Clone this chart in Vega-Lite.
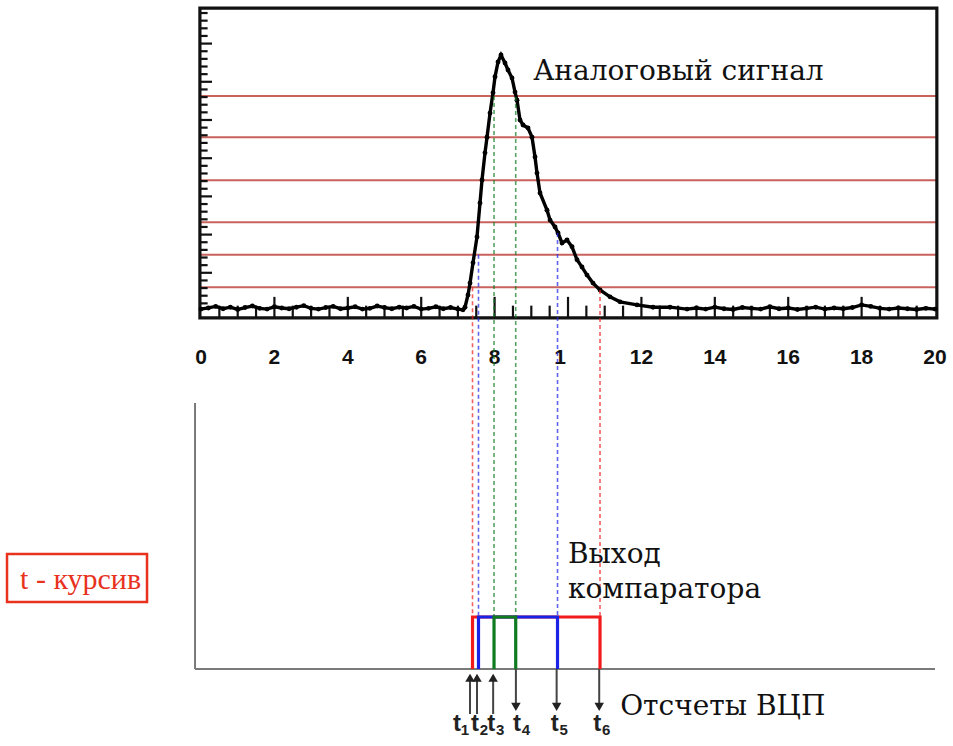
{
  "$schema": "https://vega.github.io/schema/vega-lite/v6.json",
  "width": 953,
  "height": 746,
  "padding": 0,
  "autosize": {"type": "none"},
  "background": "white",
  "config": {"view": {"stroke": null}},
  "datasets": {
    "pulse": [
      {"t":0.0,"a":0.05},{"t":0.2,"a":0.08},{"t":0.4,"a":0.12},{"t":0.6,"a":0.06},{"t":0.8,"a":0.1},{"t":1.0,"a":0.04},
      {"t":1.2,"a":0.09},{"t":1.4,"a":0.13},{"t":1.6,"a":0.07},{"t":1.8,"a":0.05},{"t":2.0,"a":0.11},{"t":2.2,"a":0.08},
      {"t":2.4,"a":0.06},{"t":2.6,"a":0.1},{"t":2.8,"a":0.14},{"t":3.0,"a":0.07},{"t":3.2,"a":0.05},{"t":3.4,"a":0.09},
      {"t":3.6,"a":0.12},{"t":3.8,"a":0.06},{"t":4.0,"a":0.08},{"t":4.2,"a":0.11},{"t":4.4,"a":0.05},{"t":4.6,"a":0.07},
      {"t":4.8,"a":0.13},{"t":5.0,"a":0.09},{"t":5.2,"a":0.06},{"t":5.4,"a":0.1},{"t":5.6,"a":0.08},{"t":5.8,"a":0.12},
      {"t":6.0,"a":0.05},{"t":6.2,"a":0.07},{"t":6.4,"a":0.11},{"t":6.6,"a":0.06},{"t":6.8,"a":0.09},{"t":7.0,"a":0.05},
      {"t":7.139,"a":0.03},{"t":7.193,"a":0.1},{"t":7.275,"a":0.42},{"t":7.33,"a":0.73},{"t":7.411,"a":1.26},{"t":7.52,"a":1.94},
      {"t":7.602,"a":2.83},{"t":7.657,"a":3.43},{"t":7.738,"a":4.14},{"t":7.793,"a":4.55},{"t":7.875,"a":5.18},{"t":7.956,"a":5.71},
      {"t":8.011,"a":6.13},{"t":8.093,"a":6.52},{"t":8.174,"a":6.7},{"t":8.283,"a":6.49},{"t":8.365,"a":6.31},{"t":8.474,"a":6.1},
      {"t":8.556,"a":5.73},{"t":8.61,"a":5.52},{"t":8.692,"a":5.0},{"t":8.774,"a":4.87},{"t":8.91,"a":4.79},{"t":9.019,"a":4.55},
      {"t":9.101,"a":4.03},{"t":9.155,"a":3.61},{"t":9.237,"a":3.09},{"t":9.428,"a":2.64},{"t":9.51,"a":2.38},{"t":9.646,"a":2.2},
      {"t":9.728,"a":2.04},{"t":9.837,"a":1.78},{"t":9.973,"a":1.86},{"t":10.109,"a":1.68},{"t":10.245,"a":1.34},{"t":10.381,"a":1.15},
      {"t":10.518,"a":0.94},{"t":10.681,"a":0.73},{"t":10.872,"a":0.55},{"t":11.144,"a":0.37},{"t":11.417,"a":0.24},{"t":11.88,"a":0.16},
      {"t":12.316,"a":0.1},{"t":12.779,"a":0.1},{"t":13.243,"a":0.05},
      {"t":13.5,"a":0.08},{"t":13.75,"a":0.05},{"t":14.0,"a":0.1},{"t":14.25,"a":0.06},{"t":14.5,"a":0.04},{"t":14.75,"a":0.09},
      {"t":15.0,"a":0.07},{"t":15.25,"a":0.05},{"t":15.5,"a":0.11},{"t":15.75,"a":0.06},{"t":16.0,"a":0.08},{"t":16.25,"a":0.04},
      {"t":16.5,"a":0.07},{"t":16.75,"a":0.1},{"t":17.0,"a":0.05},{"t":17.25,"a":0.08},{"t":17.5,"a":0.06},{"t":17.75,"a":0.09},
      {"t":18.0,"a":0.16},{"t":18.25,"a":0.12},{"t":18.5,"a":0.07},{"t":18.75,"a":0.05},{"t":19.0,"a":0.08},{"t":19.25,"a":0.06},
      {"t":19.5,"a":0.04},{"t":19.75,"a":0.07},{"t":20.0,"a":0.05}
    ],
    "thr": [{"a":5.63},{"a":4.55},{"a":3.42},{"a":2.32},{"a":1.47},{"a":0.62}],
    "xmajor": [{"v":2},{"v":4},{"v":6},{"v":8},{"v":10},{"v":12},{"v":14},{"v":16},{"v":18}],
    "xminor": [{"v":0.5},{"v":1},{"v":1.5},{"v":2.5},{"v":3},{"v":3.5},{"v":4.5},{"v":5},{"v":5.5},{"v":6.5},{"v":7},{"v":7.5},
      {"v":8.5},{"v":9},{"v":9.5},{"v":10.5},{"v":11},{"v":11.5},{"v":12.5},{"v":13},{"v":13.5},{"v":14.5},{"v":15},{"v":15.5},
      {"v":16.5},{"v":17},{"v":17.5},{"v":18.5},{"v":19},{"v":19.5}],
    "ymajor": [{"v":1},{"v":2},{"v":3},{"v":4},{"v":5},{"v":6},{"v":7}],
    "yminor": [{"v":0.2},{"v":0.4},{"v":0.6},{"v":0.8},{"v":1.2},{"v":1.4},{"v":1.6},{"v":1.8},{"v":2.2},{"v":2.4},{"v":2.6},{"v":2.8},
      {"v":3.2},{"v":3.4},{"v":3.6},{"v":3.8},{"v":4.2},{"v":4.4},{"v":4.6},{"v":4.8},{"v":5.2},{"v":5.4},{"v":5.6},{"v":5.8},
      {"v":6.2},{"v":6.4},{"v":6.6},{"v":6.8},{"v":7.2},{"v":7.4},{"v":7.6},{"v":7.8}],
    "ticklabels": [{"v":0,"label":"0"},{"v":2,"label":"2"},{"v":4,"label":"4"},{"v":6,"label":"6"},{"v":8,"label":"8"},{"v":10,"label":"1"},
      {"v":12,"label":"12"},{"v":14,"label":"14"},{"v":16,"label":"16"},{"v":18,"label":"18"},{"v":20,"label":"20"}],
    "dashed": [
      {"t":7.398,"top":0.62,"lvl":"low"},{"t":7.561,"top":1.47,"lvl":"mid"},{"t":7.984,"top":5.63,"lvl":"high"},
      {"t":8.575,"top":5.6,"lvl":"high"},{"t":9.714,"top":2.04,"lvl":"mid"},{"t":10.872,"top":0.55,"lvl":"low"}
    ],
    "comp": [
      {"lvl":"low","o":1,"t":7.398,"a":-9.372},{"lvl":"low","o":2,"t":7.398,"a":-8.01},{"lvl":"low","o":3,"t":10.872,"a":-8.01},{"lvl":"low","o":4,"t":10.872,"a":-9.372},
      {"lvl":"mid","o":1,"t":7.561,"a":-9.372},{"lvl":"mid","o":2,"t":7.561,"a":-8.01},{"lvl":"mid","o":3,"t":9.714,"a":-8.01},{"lvl":"mid","o":4,"t":9.714,"a":-9.372},
      {"lvl":"high","o":1,"t":7.984,"a":-9.372},{"lvl":"high","o":2,"t":7.984,"a":-8.01},{"lvl":"high","o":3,"t":8.575,"a":-8.01},{"lvl":"high","o":4,"t":8.575,"a":-9.372}
    ],
    "arrows": [
      {"n":"1","t":7.33,"dir":"up"},{"n":"2","t":7.52,"dir":"up"},{"n":"3","t":7.96,"dir":"up"},
      {"n":"4","t":8.58,"dir":"down"},{"n":"5","t":9.69,"dir":"down"},{"n":"6","t":10.85,"dir":"down"}
    ],
    "texts": [
      {"text":"Аналоговый сигнал","t":9.05,"a":6.05},
      {"text":"Выход","t":10.0,"a":-6.6},
      {"text":"компаратора","t":10.0,"a":-7.51},
      {"text":"Отсчеты ВЦП","t":11.42,"a":-10.58}
    ]
  },
  "layer": [
    {
      "data": {"name": "thr"},
      "mark": {"type": "rule", "color": "#c8625c", "strokeWidth": 2},
      "encoding": {
        "x": {"datum": -0.03, "type": "quantitative", "scale": {"domain": [-5.477, 20.49], "nice": false, "zero": false}, "axis": null},
        "x2": {"datum": 20.05},
        "y": {"field": "a", "type": "quantitative", "scale": {"domain": [-11.387, 8.141], "nice": false, "zero": false}, "axis": null}
      }
    },
    {
      "data": {"name": "xmajor"},
      "mark": {"type": "rule", "color": "#111", "strokeWidth": 2.2},
      "encoding": {
        "x": {"field": "v", "type": "quantitative", "scale": {"domain": [-5.477, 20.49], "nice": false, "zero": false}, "axis": null},
        "y": {"datum": -0.18, "type": "quantitative", "scale": {"domain": [-11.387, 8.141], "nice": false, "zero": false}, "axis": null},
        "y2": {"datum": 0.37}
      }
    },
    {
      "data": {"name": "xminor"},
      "mark": {"type": "rule", "color": "#111", "strokeWidth": 2.2},
      "encoding": {
        "x": {"field": "v", "type": "quantitative", "scale": {"domain": [-5.477, 20.49], "nice": false, "zero": false}, "axis": null},
        "y": {"datum": -0.18, "type": "quantitative", "scale": {"domain": [-11.387, 8.141], "nice": false, "zero": false}, "axis": null},
        "y2": {"datum": 0.14}
      }
    },
    {
      "data": {"name": "ymajor"},
      "mark": {"type": "rule", "color": "#111", "strokeWidth": 2.2},
      "encoding": {
        "y": {"field": "v", "type": "quantitative", "scale": {"domain": [-11.387, 8.141], "nice": false, "zero": false}, "axis": null},
        "x": {"datum": -0.03, "type": "quantitative", "scale": {"domain": [-5.477, 20.49], "nice": false, "zero": false}, "axis": null},
        "x2": {"datum": 0.3}
      }
    },
    {
      "data": {"name": "yminor"},
      "mark": {"type": "rule", "color": "#111", "strokeWidth": 2.2},
      "encoding": {
        "y": {"field": "v", "type": "quantitative", "scale": {"domain": [-11.387, 8.141], "nice": false, "zero": false}, "axis": null},
        "x": {"datum": -0.03, "type": "quantitative", "scale": {"domain": [-5.477, 20.49], "nice": false, "zero": false}, "axis": null},
        "x2": {"datum": 0.18}
      }
    },
    {
      "data": {"values": [{}]},
      "mark": {"type": "rect", "fillOpacity": 0, "stroke": "#111", "strokeWidth": 3.2},
      "encoding": {
        "x": {"datum": -0.03, "type": "quantitative", "scale": {"domain": [-5.477, 20.49], "nice": false, "zero": false}, "axis": null},
        "x2": {"datum": 20.05},
        "y": {"datum": -0.18, "type": "quantitative", "scale": {"domain": [-11.387, 8.141], "nice": false, "zero": false}, "axis": null},
        "y2": {"datum": 7.93}
      }
    },
    {
      "data": {"name": "pulse"},
      "mark": {"type": "line", "color": "#000", "strokeWidth": 3.4, "point": {"filled": true, "size": 24, "color": "#000"}},
      "encoding": {
        "x": {"field": "t", "type": "quantitative", "scale": {"domain": [-5.477, 20.49], "nice": false, "zero": false}, "axis": null},
        "y": {"field": "a", "type": "quantitative", "scale": {"domain": [-11.387, 8.141], "nice": false, "zero": false}, "axis": null}
      }
    },
    {
      "data": {"name": "ticklabels"},
      "mark": {"type": "text", "font": "Liberation Sans", "fontSize": 21, "fontWeight": "bold", "color": "#111", "baseline": "middle", "align": "center", "dx": {"expr": "datum.v == 10 ? -8 : 0"}},
      "encoding": {
        "x": {"field": "v", "type": "quantitative", "scale": {"domain": [-5.477, 20.49], "nice": false, "zero": false}, "axis": null},
        "y": {"datum": -1.23, "type": "quantitative", "scale": {"domain": [-11.387, 8.141], "nice": false, "zero": false}, "axis": null},
        "text": {"field": "label"}
      }
    },
    {
      "data": {"values": [{}]},
      "mark": {"type": "rule", "color": "#7a7a7a", "strokeWidth": 2},
      "encoding": {
        "x": {"datum": -0.163, "type": "quantitative", "scale": {"domain": [-5.477, 20.49], "nice": false, "zero": false}, "axis": null},
        "y": {"datum": -2.408, "type": "quantitative", "scale": {"domain": [-11.387, 8.141], "nice": false, "zero": false}, "axis": null},
        "y2": {"datum": -9.372}
      }
    },
    {
      "data": {"values": [{}]},
      "mark": {"type": "rule", "color": "#7a7a7a", "strokeWidth": 2},
      "encoding": {
        "x": {"datum": -0.163, "type": "quantitative", "scale": {"domain": [-5.477, 20.49], "nice": false, "zero": false}, "axis": null},
        "x2": {"datum": 20.0},
        "y": {"datum": -9.372, "type": "quantitative", "scale": {"domain": [-11.387, 8.141], "nice": false, "zero": false}, "axis": null}
      }
    },
    {
      "data": {"name": "dashed"},
      "mark": {"type": "rule", "strokeWidth": 1.6, "strokeDash": [4, 3], "opacity": 0.7},
      "encoding": {
        "x": {"field": "t", "type": "quantitative", "scale": {"domain": [-5.477, 20.49], "nice": false, "zero": false}, "axis": null},
        "y": {"field": "top", "type": "quantitative", "scale": {"domain": [-11.387, 8.141], "nice": false, "zero": false}, "axis": null},
        "y2": {"datum": -8.01},
        "color": {"field": "lvl", "type": "nominal", "scale": {"domain": ["low", "mid", "high"], "range": ["#f21b1b", "#1a22e6", "#0f7a1f"]}, "legend": null}
      }
    },
    {
      "data": {"name": "comp"},
      "transform": [{"filter": "datum.lvl == 'low'"}],
      "mark": {"type": "line", "strokeWidth": 3.2, "strokeJoin": "miter"},
      "encoding": {
        "x": {"field": "t", "type": "quantitative", "scale": {"domain": [-5.477, 20.49], "nice": false, "zero": false}, "axis": null},
        "y": {"field": "a", "type": "quantitative", "scale": {"domain": [-11.387, 8.141], "nice": false, "zero": false}, "axis": null},
        "order": {"field": "o"},
        "color": {"field": "lvl", "type": "nominal", "scale": {"domain": ["low", "mid", "high"], "range": ["#f21b1b", "#1a22e6", "#0f7a1f"]}, "legend": null}
      }
    },
    {
      "data": {"name": "comp"},
      "transform": [{"filter": "datum.lvl == 'mid'"}],
      "mark": {"type": "line", "strokeWidth": 3.2, "strokeJoin": "miter"},
      "encoding": {
        "x": {"field": "t", "type": "quantitative", "scale": {"domain": [-5.477, 20.49], "nice": false, "zero": false}, "axis": null},
        "y": {"field": "a", "type": "quantitative", "scale": {"domain": [-11.387, 8.141], "nice": false, "zero": false}, "axis": null},
        "order": {"field": "o"},
        "color": {"field": "lvl", "type": "nominal", "scale": {"domain": ["low", "mid", "high"], "range": ["#f21b1b", "#1a22e6", "#0f7a1f"]}, "legend": null}
      }
    },
    {
      "data": {"name": "comp"},
      "transform": [{"filter": "datum.lvl == 'high'"}],
      "mark": {"type": "line", "strokeWidth": 3.2, "strokeJoin": "miter"},
      "encoding": {
        "x": {"field": "t", "type": "quantitative", "scale": {"domain": [-5.477, 20.49], "nice": false, "zero": false}, "axis": null},
        "y": {"field": "a", "type": "quantitative", "scale": {"domain": [-11.387, 8.141], "nice": false, "zero": false}, "axis": null},
        "order": {"field": "o"},
        "color": {"field": "lvl", "type": "nominal", "scale": {"domain": ["low", "mid", "high"], "range": ["#f21b1b", "#1a22e6", "#0f7a1f"]}, "legend": null}
      }
    },
    {
      "data": {"name": "arrows"},
      "transform": [{"filter": "datum.dir == 'up'"}],
      "mark": {"type": "rule", "color": "#444", "strokeWidth": 2},
      "encoding": {
        "x": {"field": "t", "type": "quantitative", "scale": {"domain": [-5.477, 20.49], "nice": false, "zero": false}, "axis": null},
        "y": {"datum": -10.55, "type": "quantitative", "scale": {"domain": [-11.387, 8.141], "nice": false, "zero": false}, "axis": null},
        "y2": {"datum": -9.55}
      }
    },
    {
      "data": {"name": "arrows"},
      "transform": [{"filter": "datum.dir == 'up'"}],
      "mark": {"type": "point", "shape": "triangle-up", "filled": true, "color": "#222", "size": 90, "opacity": 1},
      "encoding": {
        "x": {"field": "t", "type": "quantitative", "scale": {"domain": [-5.477, 20.49], "nice": false, "zero": false}, "axis": null},
        "y": {"datum": -9.6, "type": "quantitative", "scale": {"domain": [-11.387, 8.141], "nice": false, "zero": false}, "axis": null}
      }
    },
    {
      "data": {"name": "arrows"},
      "transform": [{"filter": "datum.dir == 'down'"}],
      "mark": {"type": "rule", "color": "#444", "strokeWidth": 2},
      "encoding": {
        "x": {"field": "t", "type": "quantitative", "scale": {"domain": [-5.477, 20.49], "nice": false, "zero": false}, "axis": null},
        "y": {"datum": -9.372, "type": "quantitative", "scale": {"domain": [-11.387, 8.141], "nice": false, "zero": false}, "axis": null},
        "y2": {"datum": -10.3}
      }
    },
    {
      "data": {"name": "arrows"},
      "transform": [{"filter": "datum.dir == 'down'"}],
      "mark": {"type": "point", "shape": "triangle-down", "filled": true, "color": "#222", "size": 90, "opacity": 1},
      "encoding": {
        "x": {"field": "t", "type": "quantitative", "scale": {"domain": [-5.477, 20.49], "nice": false, "zero": false}, "axis": null},
        "y": {"datum": -10.36, "type": "quantitative", "scale": {"domain": [-11.387, 8.141], "nice": false, "zero": false}, "axis": null}
      }
    },
    {
      "data": {"name": "arrows"},
      "mark": {"type": "text", "text": "t", "font": "Liberation Sans", "fontSize": 24, "fontWeight": "bold", "color": "#222", "align": "center", "baseline": "alphabetic", "dx": {"expr": "datum.n == '1' ? -13 : (datum.n == '4' ? 1 : -2)"}},
      "encoding": {
        "x": {"field": "t", "type": "quantitative", "scale": {"domain": [-5.477, 20.49], "nice": false, "zero": false}, "axis": null},
        "y": {"datum": -10.99, "type": "quantitative", "scale": {"domain": [-11.387, 8.141], "nice": false, "zero": false}, "axis": null}
      }
    },
    {
      "data": {"name": "arrows"},
      "mark": {"type": "text", "font": "Liberation Sans", "fontSize": 15, "fontWeight": "bold", "color": "#222", "align": "center", "baseline": "alphabetic", "dx": {"expr": "datum.n == '1' ? -5 : (datum.n == '4' ? 10 : 7)"}},
      "encoding": {
        "x": {"field": "t", "type": "quantitative", "scale": {"domain": [-5.477, 20.49], "nice": false, "zero": false}, "axis": null},
        "y": {"datum": -11.1, "type": "quantitative", "scale": {"domain": [-11.387, 8.141], "nice": false, "zero": false}, "axis": null},
        "text": {"field": "n"}
      }
    },
    {
      "data": {"name": "texts"},
      "mark": {"type": "text", "font": "DejaVu Serif", "fontSize": 28, "color": "#111", "align": "left", "baseline": "alphabetic"},
      "encoding": {
        "x": {"field": "t", "type": "quantitative", "scale": {"domain": [-5.477, 20.49], "nice": false, "zero": false}, "axis": null},
        "y": {"field": "a", "type": "quantitative", "scale": {"domain": [-11.387, 8.141], "nice": false, "zero": false}, "axis": null},
        "text": {"field": "text"}
      }
    },
    {
      "data": {"values": [{}]},
      "mark": {"type": "rect", "fillOpacity": 0, "stroke": "#e8321e", "strokeWidth": 2.5},
      "encoding": {
        "x": {"datum": -5.286, "type": "quantitative", "scale": {"domain": [-5.477, 20.49], "nice": false, "zero": false}, "axis": null},
        "x2": {"datum": -1.471},
        "y": {"datum": -6.361, "type": "quantitative", "scale": {"domain": [-11.387, 8.141], "nice": false, "zero": false}, "axis": null},
        "y2": {"datum": -7.618}
      }
    },
    {
      "data": {"values": [{"text": "t - курсив", "t": -4.93, "a": -7.277}]},
      "mark": {"type": "text", "font": "Liberation Serif", "fontSize": 30, "color": "#e8321e", "align": "left", "baseline": "alphabetic"},
      "encoding": {
        "x": {"field": "t", "type": "quantitative", "scale": {"domain": [-5.477, 20.49], "nice": false, "zero": false}, "axis": null},
        "y": {"field": "a", "type": "quantitative", "scale": {"domain": [-11.387, 8.141], "nice": false, "zero": false}, "axis": null},
        "text": {"field": "text"}
      }
    }
  ]
}
